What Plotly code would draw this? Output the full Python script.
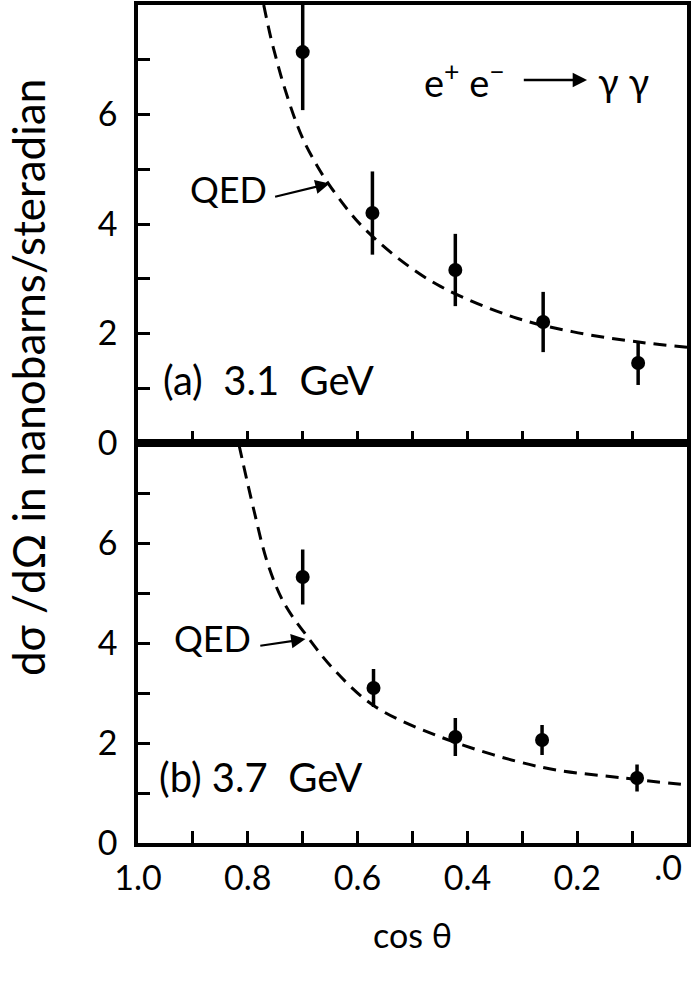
import plotly.graph_objects as go

# Measured differential cross sections for e+e- -> gamma gamma
cos_a = [0.700, 0.573, 0.422, 0.262, 0.089]
val_a = [7.14, 4.20, 3.16, 2.21, 1.46]
err_a = [1.06, 0.76, 0.66, 0.55, 0.40]

cos_b = [0.700, 0.571, 0.422, 0.264, 0.091]
val_b = [5.32, 3.10, 2.12, 2.06, 1.30]
err_b = [0.55, 0.38, 0.38, 0.30, 0.27]

# QED prediction curves
qed_cos_a = [0.771, 0.758, 0.745, 0.735, 0.716, 0.698, 0.673, 0.652, 0.618,
             0.589, 0.527, 0.449, 0.316, 0.207, 0.085, 0.0]
qed_val_a = [8.00, 7.40, 6.90, 6.55, 5.97, 5.52, 5.05, 4.72, 4.26,
             3.93, 3.38, 2.86, 2.30, 2.03, 1.84, 1.75]

qed_cos_b = [0.816, 0.789, 0.764, 0.734, 0.691, 0.644, 0.571, 0.449, 0.267, 0.116, 0.0]
qed_val_b = [7.96, 6.66, 5.60, 4.80, 4.12, 3.48, 2.75, 2.12, 1.52, 1.30, 1.16]

x_ticks = [1.0, 0.9, 0.8, 0.7, 0.6, 0.5, 0.4, 0.3, 0.2, 0.1, 0.0]
x_labels = ["1.0", "", "0.8", "", "0.6", "", "0.4", "", "0.2", "", ""]
# the zero label sits at the right-hand edge, so it is drawn on its own
# overlay axis and nudged inwards to stay on the page
x_zero_tick = [0.0]
x_zero_label = [".0"]
y_ticks = [0, 1, 2, 3, 4, 5, 6, 7, 8]
y_labels = ["0", "", "2", "", "4", "", "6", "", ""]

FONT = "Lato, 'DejaVu Sans', sans-serif"
INK = "black"

fig = go.Figure()

def data_trace(x, y, e, xa, ya):
    return go.Scatter(
        x=x, y=y, xaxis=xa, yaxis=ya, mode="markers",
        marker=dict(color=INK, size=14, symbol="circle"),
        error_y=dict(type="data", array=e, color=INK, thickness=3.5, width=0),
        showlegend=False, hoverinfo="skip",
    )

def qed_trace(x, y, xa, ya):
    return go.Scatter(
        x=x, y=y, xaxis=xa, yaxis=ya, mode="lines",
        line=dict(color=INK, width=3, dash="13px,8px", shape="spline", smoothing=1.0),
        showlegend=False, hoverinfo="skip",
    )

# upper panel (3.1 GeV)
fig.add_trace(qed_trace(qed_cos_a, qed_val_a, "x2", "y2"))
fig.add_trace(data_trace(cos_a, val_a, err_a, "x2", "y2"))
# lower panel (3.7 GeV)
fig.add_trace(qed_trace(qed_cos_b, qed_val_b, "x", "y"))
fig.add_trace(data_trace(cos_b, val_b, err_b, "x", "y"))

split = 400 / 838

axis_common = dict(
    showline=True, linecolor=INK, linewidth=3.5, mirror=True,
    ticks="inside", ticklen=12, tickwidth=2.5, tickcolor=INK,
    showgrid=False, zeroline=False, automargin=False,
    tickfont=dict(family=FONT, size=34, color=INK),
)

fig.update_layout(
    width=691, height=996,
    margin=dict(l=138, r=4, t=5, b=153),
    paper_bgcolor="white", plot_bgcolor="white",
    font=dict(family=FONT, color=INK),
    xaxis=dict(
        **axis_common, domain=[0, 1], anchor="y", range=[1.0, 0.0],
        tickmode="array", tickvals=x_ticks, ticktext=x_labels,
        ticklabelstandoff=2,
        title=dict(text="cos \u03b8", font=dict(family=FONT, size=34, color=INK), standoff=30),
    ),
    xaxis2=dict(
        **axis_common, domain=[0, 1], anchor="y2", matches="x", range=[1.0, 0.0],
        tickmode="array", tickvals=x_ticks, showticklabels=False,
    ),
    xaxis3=dict(
        domain=[0, 1], anchor="y", overlaying="x", range=[1.0, 0.0],
        side="bottom", showline=False, showgrid=False, zeroline=False, ticks="",
        automargin=False, tickmode="array", tickvals=x_zero_tick, ticktext=x_zero_label,
        ticklabelstandoff=2, ticklabelshift=19, ticklabeloverflow="allow",
        tickfont=dict(family=FONT, size=34, color=INK),
    ),
    yaxis=dict(
        **axis_common, domain=[0, split], anchor="x", range=[0, 8],
        tickmode="array", tickvals=y_ticks, ticktext=y_labels,
        ticklabelstandoff=10,
    ),
    yaxis2=dict(
        **axis_common, domain=[split, 1], anchor="x2", range=[0, 8],
        tickmode="array", tickvals=y_ticks, ticktext=y_labels,
        ticklabelstandoff=10,
    ),
)

# invisible carrier so the overlay axis is drawn
fig.add_trace(go.Scatter(x=x_zero_tick, y=[0.0], xaxis="x3", yaxis="y",
                         mode="markers", marker=dict(opacity=0),
                         showlegend=False, hoverinfo="skip"))

txt = dict(family=FONT, size=36, color=INK)
big = dict(family=FONT, size=40, color=INK)

# shared y-axis title
fig.add_annotation(
    xref="paper", yref="paper", x=-0.200, y=0.555,
    text="d\u03c3 /d\u03a9 in nanobarns/steradian", textangle=-90,
    showarrow=False, font=dict(family=FONT, size=44, color=INK),
    xanchor="center", yanchor="middle",
)

# panel labels
fig.add_annotation(xref="x2", yref="y2", x=0.958, y=1.15, text="(a)\u00a0 3.1\u00a0 GeV",
                   showarrow=False, font=big, xanchor="left", yanchor="middle")
fig.add_annotation(xref="x", yref="y", x=0.965, y=1.32, text="(b)\u00a03.7\u00a0 GeV",
                   showarrow=False, font=big, xanchor="left", yanchor="middle")

# QED labels with pointer arrows
fig.add_annotation(xref="x2", yref="y2", x=0.835, y=4.64, text="QED",
                   showarrow=False, font=txt, xanchor="center", yanchor="middle")
fig.add_annotation(xref="x2", yref="y2", x=0.651, y=4.74, ax=0.753, ay=4.49,
                   axref="x2", ayref="y2", text="", showarrow=True,
                   arrowhead=2, arrowsize=1.3, arrowwidth=2.2, arrowcolor=INK)
fig.add_annotation(xref="x", yref="y", x=0.865, y=4.10, text="QED",
                   showarrow=False, font=txt, xanchor="center", yanchor="middle")
fig.add_annotation(xref="x", yref="y", x=0.695, y=4.08, ax=0.780, ay=3.94,
                   axref="x", ayref="y", text="", showarrow=True,
                   arrowhead=2, arrowsize=1.3, arrowwidth=2.2, arrowcolor=INK)

# reaction label
fig.add_annotation(xref="x2", yref="y2", x=0.405, y=6.63,
                   text="e<sup>+</sup> e<sup>\u2212</sup>", showarrow=False,
                   font=dict(family=FONT, size=38, color=INK), xanchor="center", yanchor="middle")
fig.add_annotation(xref="x2", yref="y2", x=0.182, y=6.63, ax=0.300, ay=6.63,
                   axref="x2", ayref="y2", text="", showarrow=True,
                   arrowhead=2, arrowsize=1.2, arrowwidth=2.4, arrowcolor=INK)
fig.add_annotation(xref="x2", yref="y2", x=0.115, y=6.62, text="\u03b3 \u03b3",
                   showarrow=False, font=dict(family=FONT, size=38, color=INK),
                   xanchor="center", yanchor="middle")

fig.write_html("out.html")
